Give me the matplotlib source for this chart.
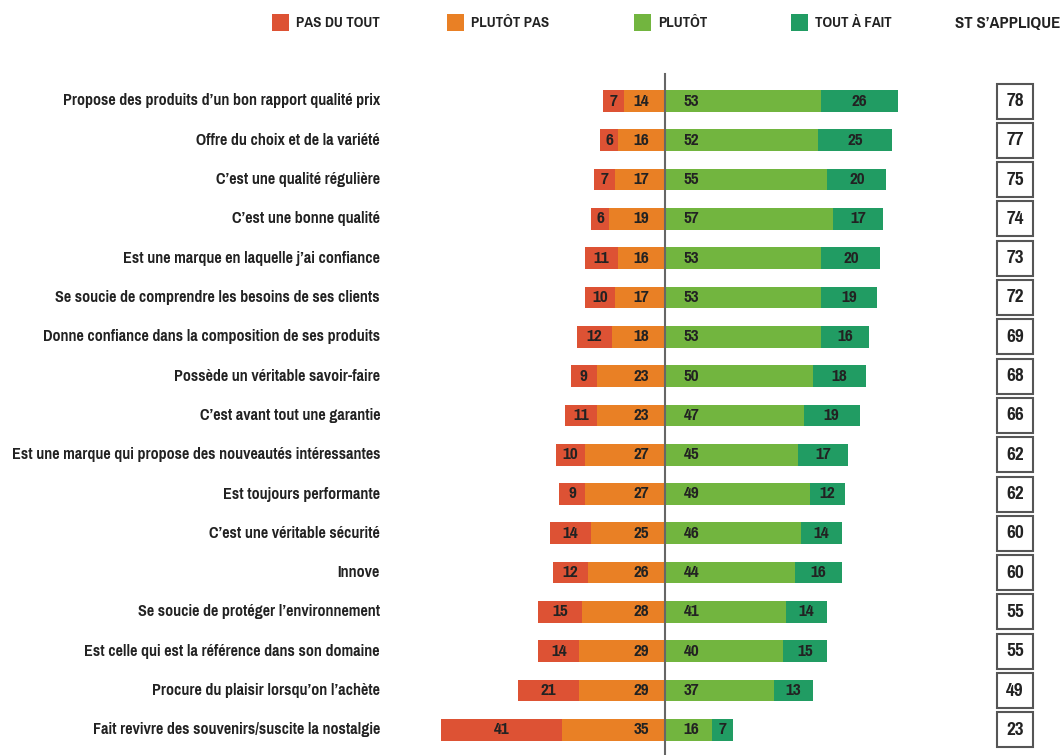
import matplotlib
matplotlib.use("Agg")
import matplotlib.pyplot as plt
from matplotlib.patches import Rectangle
from matplotlib import font_manager

# Data
items = [
    "Propose des produits d’un bon rapport qualité prix",
    "Offre du choix et de la variété",
    "C’est une qualité régulière",
    "C’est une bonne qualité",
    "Est une marque en laquelle j’ai confiance",
    "Se soucie de comprendre les besoins de ses clients",
    "Donne confiance dans la composition de ses produits",
    "Possède un véritable savoir-faire",
    "C’est avant tout une garantie",
    "Est une marque qui propose des nouveautés intéressantes",
    "Est toujours performante",
    "C’est une véritable sécurité",
    "Innove",
    "Se soucie de protéger l’environnement",
    "Est celle qui est la référence dans son domaine",
    "Procure du plaisir lorsqu’on l’achète",
    "Fait revivre des souvenirs/suscite la nostalgie",
]
pas_du_tout = [7, 6, 7, 6, 11, 10, 12, 9, 11, 10, 9, 14, 12, 15, 14, 21, 41]
plutot_pas = [14, 16, 17, 19, 16, 17, 18, 23, 23, 27, 27, 25, 26, 28, 29, 29, 35]
plutot = [53, 52, 55, 57, 53, 53, 53, 50, 47, 45, 49, 46, 44, 41, 40, 37, 16]
tout_a_fait = [26, 25, 20, 17, 20, 19, 16, 18, 19, 17, 12, 14, 16, 14, 15, 13, 7]
st_applique = [78, 77, 75, 74, 73, 72, 69, 68, 66, 62, 62, 60, 60, 55, 55, 49, 23]

legend_labels = ["PAS DU TOUT", "PLUTÔT PAS", "PLUTÔT", "TOUT À FAIT"]
colors = ["#DD5234", "#E98025", "#72B53F", "#219C63"]
text_col = "#222222"

# look for a condensed / narrow bold face, the original uses one
cond = None
for f in font_manager.fontManager.ttflist:
    name = f.fname.lower()
    if ("narrow" in name or "condensed" in name) and "bold" in name and "oblique" not in name \
            and "italic" not in name:
        if cond is None or "narrow" in name:
            cond = f.fname

if cond:
    fp = font_manager.FontProperties(fname=cond)
    fs, fs_val, fs_leg, fs_st, fs_box = 12.6, 13.5, 11.8, 13.2, 15
else:
    fp = font_manager.FontProperties(family="DejaVu Sans", weight="bold")
    fs, fs_val, fs_leg, fs_st, fs_box = 8.6, 9, 9, 9.5, 11

W, H = 1064, 755
fig = plt.figure(figsize=(W / 100, H / 100), dpi=100)
ax = fig.add_axes([0, 0, 1, 1])
ax.axis("off")

# one data unit = ~2.95 px horizontally, one row = ~39.3 px
x0_px, unit = 665, 2.95
row0_px, row_h = 101, 39.3
ax.set_xlim(-x0_px / unit, (W - x0_px) / unit)
ax.set_ylim((H - row0_px) / row_h, -row0_px / row_h)

n = len(items)
ys = list(range(n))
bh = 0.55

neg1 = [-(a + b) for a, b in zip(pas_du_tout, plutot_pas)]
neg2 = [-b for b in plutot_pas]
ax.barh(ys, pas_du_tout, left=neg1, height=bh, color=colors[0], linewidth=0)
ax.barh(ys, plutot_pas, left=neg2, height=bh, color=colors[1], linewidth=0)
ax.barh(ys, plutot, left=0, height=bh, color=colors[2], linewidth=0)
ax.barh(ys, tout_a_fait, left=plutot, height=bh, color=colors[3], linewidth=0)

lbl_x = (380 - x0_px) / unit
box_x = (1015 - x0_px) / unit
box_w = 36 / unit
box_h = 35 / row_h
for i in range(n):
    ax.text(lbl_x, i, items[i], ha="right", va="center", fontproperties=fp, fontsize=fs,
            color=text_col)
    ax.text(neg1[i] + pas_du_tout[i] / 2, i, str(pas_du_tout[i]), ha="center", va="center",
            fontproperties=fp, fontsize=fs_val, color=text_col)
    ax.text(-8, i, str(plutot_pas[i]), ha="center", va="center", fontproperties=fp,
            fontsize=fs_val, color=text_col)
    ax.text(9, i, str(plutot[i]), ha="center", va="center", fontproperties=fp, fontsize=fs_val,
            color=text_col)
    ax.text(plutot[i] + tout_a_fait[i] / 2, i, str(tout_a_fait[i]), ha="center", va="center",
            fontproperties=fp, fontsize=fs_val, color=text_col)
    ax.add_patch(Rectangle((box_x - box_w / 2, i - box_h / 2), box_w, box_h,
                           facecolor="white", edgecolor="#555555", linewidth=1.5))
    ax.text(box_x, i, str(st_applique[i]), ha="center", va="center", fontproperties=fp,
            fontsize=fs_box, color=text_col)

# center line
ax.plot([0, 0], [-0.68, (H - row0_px) / row_h], color="#666666", linewidth=1.5)

# legend across the top
sq_x = [272, 447, 634, 791]
for px, lab, c in zip(sq_x, legend_labels, colors):
    fig.patches.append(Rectangle((px / W, 1 - 31 / H), 17 / W, 17 / H,
                                 transform=fig.transFigure, facecolor=c, linewidth=0))
    fig.text((px + 24) / W, 1 - 23 / H, lab, ha="left", va="center", fontproperties=fp,
             fontsize=fs_leg, color=text_col)
fig.text(1008 / W, 1 - 24 / H, "ST S’APPLIQUE", ha="center", va="center", fontproperties=fp,
         fontsize=fs_st, color=text_col)

fig.savefig("out.png", dpi=100, facecolor="white")
